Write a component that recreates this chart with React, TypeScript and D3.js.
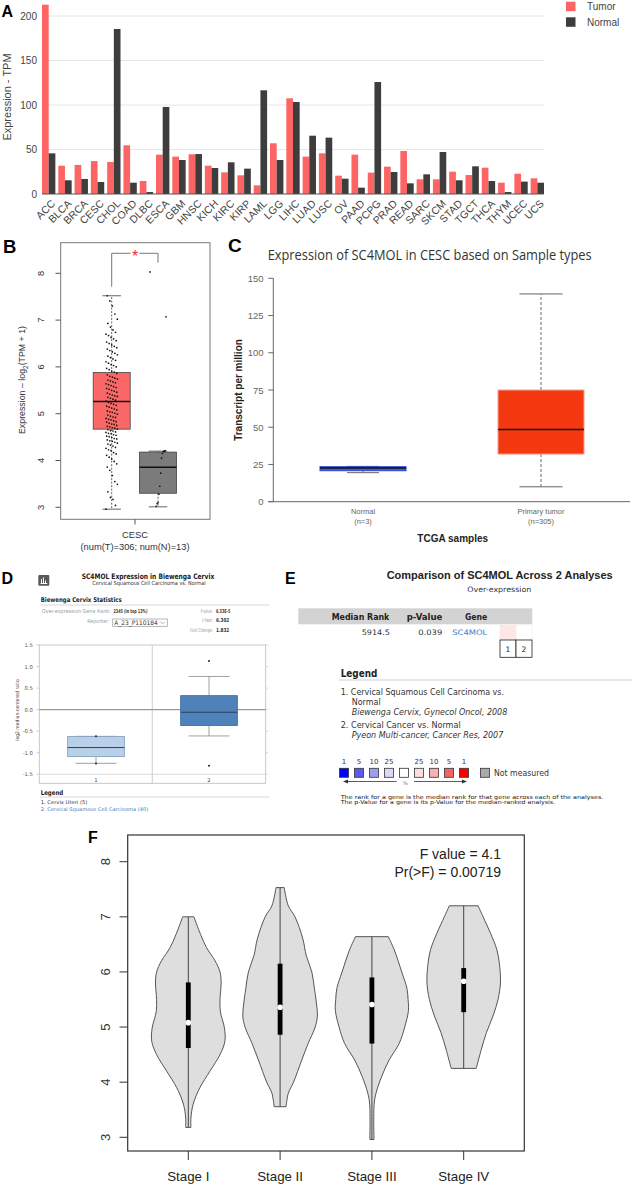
import React from 'react';
import * as d3 from 'd3';

// ---------- Panel A data ----------
const cancers = ['ACC','BLCA','BRCA','CESC','CHOL','COAD','DLBC','ESCA','GBM','HNSC','KICH','KIRC','KIRP','LAML','LGG','LIHC','LUAD','LUSC','OV','PAAD','PCPG','PRAD','READ','SARC','SKCM','STAD','TGCT','THCA','THYM','UCEC','UCS'];
const tumorTPM = [212.7,31.8,32.6,37,36,54.7,14.6,44.2,42,44.6,31.8,24.3,21,9.7,57,107.5,42,45.7,20.6,44.2,24,30.7,48.3,16.5,16.5,25.1,21.3,29.6,12.7,22.8,17.6];
const normalTPM = [45.7,15.4,16.9,13.5,185.4,12.7,2.2,97.8,38.2,44.9,29.2,35.6,28.5,116.5,38.2,103.4,65.5,63.3,17.2,7.1,125.8,24.7,12,22.1,47.2,15.4,31.1,14.6,2.2,13.9,12.7];
const tpmTicks = [0,50,100,150,200];
const seriesA = ['Tumor','Normal'];

// ---------- Panel B data ----------
const bGroups = ['Tumor','Normal'];
const bStats = [
  { min: 2.96, q1: 4.67, median: 5.26, q3: 5.88, max: 7.52 },
  { min: 3.01, q1: 3.30, median: 3.855, q3: 4.18, max: 4.2 },
];
const bTicks = [3,4,5,6,7,8];
const tumorLog2 = [
  2.96,3.04,3.17,3.21,3.33,3.49,3.55,3.68,3.79,3.86,3.93,3.98,4.03,4.07,4.11,4.14,4.17,4.21,4.23,4.26,4.28,4.31,4.33,4.35,4.37,4.39,4.41,4.42,4.44,4.46,4.47,4.49,4.51,4.52,4.54,4.55,4.57,4.58,4.6,4.61,4.63,4.64,4.66,
  4.67,4.69,4.7,4.72,4.73,4.75,4.77,4.78,4.8,4.82,4.83,4.85,4.87,4.88,4.9,4.92,4.93,4.95,4.97,4.99,5.01,5.03,5.04,5.06,5.08,5.1,5.12,5.14,5.16,5.18,5.2,5.22,5.24,
  5.27,5.29,5.31,5.33,5.35,5.37,5.38,5.4,5.42,5.44,5.46,5.48,5.5,5.52,5.54,5.56,5.58,5.6,5.62,5.64,5.66,5.68,5.7,5.72,5.74,5.76,5.78,5.8,5.83,5.86,
  5.89,5.91,5.94,5.97,6.0,6.03,6.05,6.08,6.11,6.14,6.17,6.2,6.23,6.26,6.29,6.32,6.35,6.38,6.41,6.44,6.47,6.5,6.53,6.56,6.6,6.63,6.67,6.7,6.74,6.79,6.85,6.93,7.02,7.13,7.3,7.41,7.52,
];
const normalLog2 = [8.03,7.07,4.21,4.2,4.19,4.15,4.05,3.73,3.45,3.28,3.1,3.08,3.02];

// ---------- Panel C data ----------
const cGroups = ['Normal','Primary tumor'];
const cCounts = ['(n=3)','(n=305)'];
const cStats = [
  { min: 19.5, q1: 20.8, median: 22.6, q3: 23.5, max: 23.7 },
  { min: 10, q1: 32, median: 48.5, q3: 75, max: 139.5 },
];
const cTicks = [0,25,50,75,100,125,150];

// ---------- Panel D data ----------
const dGroups = ['1','2'];
const dStats = [
  { min: -1.245, q1: -1.09, median: -0.88, q3: -0.62, max: -0.62, out: [-0.62,-1.25] },
  { min: -0.61, q1: -0.37, median: -0.06, q3: 0.325, max: 0.77, out: [1.13,-1.30] },
];
const dTicks = [-1.5,-1.0,-0.5,0.0,0.5,1.0,1.5];

// ---------- Panel E data ----------
const eScaleLabels = ['1','5','10','25','','25','10','5','1'];
const eScaleColors = ['#0000ff','#5a5aee','#9d9df2','#d8d8f7','#ffffff','#fcdede','#f7b0b0','#f06464','#ff0000'];

// ---------- Panel F data ----------
const stages = ['Stage I','Stage II','Stage III','Stage IV'];
const fTicks = [3,4,5,6,7,8];
const stageDensity = [
  [[3.18,0.07],[3.35,0.07],[3.6,0.13],[3.9,0.31],[4.2,0.58],[4.5,0.85],[4.74,0.98],[4.98,0.97],[5.28,0.86],[5.5,0.85],[5.8,0.88],[6.0,0.85],[6.2,0.72],[6.44,0.49],[6.68,0.33],[7.0,0.15]],
  [[3.555,0.16],[3.8,0.22],[4.0,0.36],[4.4,0.58],[4.7,0.75],[5.0,0.94],[5.2,1.0],[5.4,0.98],[5.7,0.92],[6.0,0.85],[6.3,0.7],[6.6,0.61],[7.0,0.4],[7.2,0.22],[7.53,0.11]],
  [[2.96,0.055],[3.6,0.06],[3.8,0.11],[4.1,0.26],[4.4,0.46],[4.7,0.73],[5.0,0.88],[5.3,0.98],[5.5,0.97],[5.7,0.94],[6.0,0.8],[6.4,0.6],[6.64,0.44]],
  [[4.25,0.335],[4.6,0.475],[4.9,0.61],[5.2,0.785],[5.5,0.92],[5.8,0.985],[6.1,0.965],[6.4,0.89],[6.7,0.72],[7.0,0.52],[7.2,0.385]],
];
const stageBox = [
  { q1: 4.62, median: 5.08, q3: 5.81 },
  { q1: 4.86, median: 5.36, q3: 6.15 },
  { q1: 4.7, median: 5.41, q3: 5.9 },
  { q1: 5.27, median: 5.83, q3: 6.07 },
];

const ARIAL = "'Liberation Sans', Arial, Helvetica, sans-serif";
const VERD = "'DejaVu Sans', Verdana, sans-serif";
const OPEN = "'Open Sans', 'DejaVu Sans', sans-serif";

export default function App() {
  React.useEffect(() => { document.body.style.margin = '0'; }, []);

  // Panel A scales
  const xA = d3.scaleBand<string>().domain(cancers).range([42, 544]).paddingInner(0.18).paddingOuter(0);
  const xAs = d3.scaleBand<string>().domain(seriesA).range([0, xA.bandwidth()]);
  const yA = d3.scaleLinear().domain([0, 200]).range([194, 16]);
  const colA: Record<string,string> = { Tumor: '#fd6464', Normal: '#3d3d3d' };

  // Panel B scales
  const xB = d3.scalePoint<string>().domain(bGroups).range([111.7, 158]);
  const yB = d3.scaleLinear().domain([3, 8]).range([507.3, 273.3]);
  const bFill = ['#f96767', '#7b7b7b'];

  // Panel C scales
  const xC = d3.scalePoint<string>().domain(cGroups).range([363, 541]);
  const yC = d3.scaleLinear().domain([0, 150]).range([501.7, 278.3]);

  // Panel D scales
  const xD = d3.scalePoint<string>().domain(dGroups).range([96, 209]);
  const yD = d3.scaleLinear().domain([-1.5, 1.5]).range([774.3, 645]);

  // Panel E scale
  const xE = d3.scaleLinear().domain([0, 8]).range([344, 464]);

  // Panel F scales
  const xF = d3.scalePoint<string>().domain(stages).range([188.3, 463.7]);
  const yF = d3.scaleLinear().domain([3, 8]).range([1137.3, 861.7]);
  const wF = d3.scaleLinear().domain([0, 1]).range([0, 37.3]);

  const jit = (i: number, k: number, amp: number) => (((i * k) % 19) - 9) / 9 * amp;

  return (
    <svg width={632} height={1185} style={{ position: 'absolute', left: 0, top: 0, display: 'block', background: '#fff' }}>
      <rect x={0} y={0} width={632} height={1185} fill="#fff" />

      {/* ================= Panel A ================= */}
      <text x={1.5} y={16.7} fontFamily={ARIAL} fontWeight="bold" fontSize={16} fill="#000">A</text>
      {tpmTicks.filter(t => t > 0).map(t => (
        <line key={'ga' + t} x1={42} x2={544} y1={yA(t)} y2={yA(t)} stroke="#e6e6e6" strokeWidth={1} />
      ))}
      {tpmTicks.map(t => (
        <text key={'ta' + t} x={37} y={yA(t) + 3.5} textAnchor="end" fontFamily={ARIAL} fontSize={10} fill="#444">{t}</text>
      ))}
      <text transform={`translate(11,${(yA(0) + yA(200)) / 2 - 8}) rotate(-90)`} textAnchor="middle" fontFamily={ARIAL} fontSize={11} fill="#444">Expression - TPM</text>
      {cancers.map((c, i) => (
        <g key={'ba' + c}>
          <rect x={(xA(c) as number) + (xAs('Tumor') as number)} y={yA(tumorTPM[i])} width={xAs.bandwidth()} height={yA(0) - yA(tumorTPM[i])} fill={colA.Tumor} />
          <rect x={(xA(c) as number) + (xAs('Normal') as number)} y={yA(normalTPM[i])} width={xAs.bandwidth()} height={yA(0) - yA(normalTPM[i])} fill={colA.Normal} />
          <text transform={`translate(${(xA(c) as number) + xA.bandwidth() / 2 + 2},199) rotate(-45)`} textAnchor="end" dy="0.7em" fontFamily={ARIAL} fontSize={10.5} fill="#444">{c}</text>
        </g>
      ))}
      <line x1={42} x2={544} y1={yA(0)} y2={yA(0)} stroke="#555" strokeWidth={1} />
      {seriesA.map((s, i) => (
        <g key={'la' + s}>
          <rect x={566} y={1.7 + i * 15.6} width={9.5} height={9.5} fill={colA[s]} />
          <text x={587} y={10.2 + i * 15.6} fontFamily={ARIAL} fontSize={10} fill="#444">{s}</text>
        </g>
      ))}

      {/* ================= Panel B ================= */}
      <text x={3} y={253.3} fontFamily={ARIAL} fontWeight="bold" fontSize={18.5} fill="#000">B</text>
      <rect x={60.7} y={242.7} width={149.3} height={276.6} fill="none" stroke="#777" strokeWidth={1} />
      {bTicks.map(t => (
        <g key={'tb' + t}>
          <line x1={55.5} x2={60.7} y1={yB(t)} y2={yB(t)} stroke="#555" />
          <text transform={`translate(43.5,${yB(t)}) rotate(-90)`} textAnchor="middle" fontFamily={ARIAL} fontSize={9.3} fill="#333">{t}</text>
        </g>
      ))}
      <text transform="translate(25,380) rotate(-90)" textAnchor="middle" fontFamily={ARIAL} fontSize={8.8} fill="#333">
        Expression – log<tspan fontSize={6.5} dy={2.5}>2</tspan><tspan dy={-2.5}>(TPM + 1)</tspan>
      </text>
      {bStats.map((s, i) => {
        const cx = xB(bGroups[i]) as number;
        const bw = 37;
        const cw = 18.5;
        return (
          <g key={'bb' + i}>
            <line x1={cx} x2={cx} y1={yB(s.q3)} y2={yB(s.max)} stroke="#666" strokeDasharray="2,1.5" />
            <line x1={cx} x2={cx} y1={yB(s.q1)} y2={yB(s.min)} stroke="#666" strokeDasharray="2,1.5" />
            <line x1={cx - cw / 2} x2={cx + cw / 2} y1={yB(s.max)} y2={yB(s.max)} stroke="#666" />
            <line x1={cx - cw / 2} x2={cx + cw / 2} y1={yB(s.min)} y2={yB(s.min)} stroke="#666" />
            <rect x={cx - bw / 2} y={yB(s.q3)} width={bw} height={yB(s.q1) - yB(s.q3)} fill={bFill[i]} stroke="#444" strokeWidth={0.8} />
            <line x1={cx - bw / 2} x2={cx + bw / 2} y1={yB(s.median)} y2={yB(s.median)} stroke="#111" strokeWidth={1.6} />
          </g>
        );
      })}
      {tumorLog2.map((v, i) => (
        <circle key={'pt' + i} cx={(xB('Tumor') as number) + jit(i, 53, 5.7)} cy={yB(v)} r={0.85} fill="#111" />
      ))}
      {normalLog2.map((v, i) => (
        <circle key={'pn' + i} cx={(xB('Normal') as number) + jit(i, 37, 8)} cy={yB(v)} r={0.85} fill="#111" />
      ))}
      <path d={`M${xB('Tumor')},286.7 V253.3 H130.5`} fill="none" stroke="#777" />
      <path d={`M139.5,253.3 H${xB('Normal')} V262.7`} fill="none" stroke="#777" />
      <text x={135} y={262} textAnchor="middle" fontFamily={ARIAL} fontSize={16} fill="#f03030">*</text>
      <line x1={135} x2={135} y1={519.3} y2={524.5} stroke="#555" />
      <text x={135} y={538.3} textAnchor="middle" fontFamily={ARIAL} fontSize={9.3} fill="#333">CESC</text>
      <text x={135} y={550.3} textAnchor="middle" fontFamily={ARIAL} fontSize={9.3} fill="#333">(num(T)=306; num(N)=13)</text>

      {/* ================= Panel C ================= */}
      <text x={228} y={251.7} fontFamily={ARIAL} fontWeight="bold" fontSize={19} fill="#000">C</text>
      <text x={267.7} y={259.7} fontFamily={OPEN} fontSize={14} fill="#333" textLength={324} lengthAdjust="spacingAndGlyphs">Expression of SC4MOL in CESC based on Sample types</text>
      <line x1={273.3} x2={273.3} y1={yC(150)} y2={yC(0)} stroke="#666" />
      <line x1={268.3} x2={630} y1={yC(0)} y2={yC(0)} stroke="#666" />
      {cTicks.map(t => (
        <g key={'tc' + t}>
          <line x1={268.3} x2={273.3} y1={yC(t)} y2={yC(t)} stroke="#666" />
          <text x={263.5} y={yC(t) + 3.5} textAnchor="end" fontFamily={ARIAL} fontSize={9.5} fill="#666">{t}</text>
        </g>
      ))}
      {cStats.map((s, i) => {
        const cx = xC(cGroups[i]) as number;
        const bw = 86;
        const cw = i === 0 ? 32 : 43;
        const fill = i === 0 ? '#4060e6' : '#f4380f';
        const stroke = i === 0 ? '#2a47c8' : '#f8a090';
        return (
          <g key={'cb' + i}>
            <line x1={cx} x2={cx} y1={yC(s.q3)} y2={yC(s.max)} stroke="#666" strokeDasharray="3,2" />
            <line x1={cx} x2={cx} y1={yC(s.q1)} y2={yC(s.min)} stroke="#666" strokeDasharray="3,2" />
            <line x1={cx - cw / 2} x2={cx + cw / 2} y1={yC(s.max)} y2={yC(s.max)} stroke="#666" />
            <line x1={cx - cw / 2} x2={cx + cw / 2} y1={yC(s.min)} y2={yC(s.min)} stroke="#666" />
            <rect x={cx - bw / 2} y={yC(s.q3)} width={bw} height={yC(s.q1) - yC(s.q3)} fill={fill} stroke={stroke} strokeWidth={1} />
            <line x1={cx - bw / 2} x2={cx + bw / 2} y1={yC(s.median)} y2={yC(s.median)} stroke="#111" strokeWidth={1.6} />
            <text x={cx} y={514.3} textAnchor="middle" fontFamily={ARIAL} fontSize={7.5} fill="#666">{cGroups[i]}</text>
            <text x={cx} y={524.3} textAnchor="middle" fontFamily={ARIAL} fontSize={7.5} fill="#666">{cCounts[i]}</text>
          </g>
        );
      })}
      <text x={452.7} y={541.5} textAnchor="middle" fontFamily={ARIAL} fontWeight="bold" fontSize={10} fill="#222">TCGA samples</text>
      <text transform="translate(241.5,390) rotate(-90)" textAnchor="middle" fontFamily={ARIAL} fontWeight="bold" fontSize={10} fill="#222">Transcript per million</text>

      {/* ================= Panel D ================= */}
      <text x={1.5} y={584} fontFamily={ARIAL} fontWeight="bold" fontSize={16} fill="#000">D</text>
      <rect x={38.3} y={575} width={11} height={10.7} rx={1} fill="#5a5a5a" />
      <path d="M40.5,583.5 H47.3 M41.5,583.5 V579 M43.5,583.5 V577.5 M45.5,583.5 V580.5" stroke="#fff" strokeWidth={1} fill="none" />
      <text x={81.7} y={578.7} fontFamily={VERD} fontWeight="bold" fontSize={7.5} fill="#222" textLength={132.6} lengthAdjust="spacingAndGlyphs">SC4MOL Expression in Biewenga Cervix</text>
      <text x={92.3} y={585.4} fontFamily={VERD} fontSize={5.6} fill="#333" textLength={113.4} lengthAdjust="spacingAndGlyphs">Cervical Squamous Cell Carcinoma vs. Normal</text>
      <text x={40.7} y={601.7} fontFamily={VERD} fontWeight="bold" fontSize={6.5} fill="#222" textLength={81} lengthAdjust="spacingAndGlyphs">Biewenga Cervix Statistics</text>
      <line x1={40} x2={269.3} y1={605} y2={605} stroke="#d8d8d8" />
      <text x={110.7} y={613} textAnchor="end" fontFamily={VERD} fontSize={5.3} fill="#9a9a9a" textLength={69} lengthAdjust="spacingAndGlyphs">Over-expression Gene Rank:</text>
      <text x={113.5} y={613} fontFamily={VERD} fontWeight="bold" fontSize={5.3} fill="#333" textLength={34} lengthAdjust="spacingAndGlyphs">2345 (in top 13%)</text>
      <text x={212.7} y={613} textAnchor="end" fontFamily={VERD} fontSize={5.3} fill="#9a9a9a" textLength={12} lengthAdjust="spacingAndGlyphs">P-value:</text>
      <text x={216} y={613} fontFamily={VERD} fontWeight="bold" fontSize={5.3} fill="#333" textLength={14.3} lengthAdjust="spacingAndGlyphs">6.33E-5</text>
      <text x={109.3} y={622.5} textAnchor="end" fontFamily={VERD} fontSize={5.3} fill="#9a9a9a" textLength={22} lengthAdjust="spacingAndGlyphs">Reporter:</text>
      <rect x={112.7} y={619} width={54.6} height={7.3} fill="#fff" stroke="#999" strokeWidth={0.7} />
      <text x={114.3} y={625.3} fontFamily={VERD} fontSize={6.3} fill="#333" textLength={43.4} lengthAdjust="spacingAndGlyphs">A_23_P110184</text>
      <polyline points="160.6,621.6 162.7,623.8 164.8,621.6" fill="none" stroke="#888" strokeWidth={0.6} />
      <text x={212.7} y={622.3} textAnchor="end" fontFamily={VERD} fontSize={5.3} fill="#9a9a9a" textLength={10.4} lengthAdjust="spacingAndGlyphs">t-Test:</text>
      <text x={216} y={622.3} fontFamily={VERD} fontWeight="bold" fontSize={5.3} fill="#333" textLength={13.3} lengthAdjust="spacingAndGlyphs">6.302</text>
      <text x={212.7} y={632.3} textAnchor="end" fontFamily={VERD} fontSize={5.3} fill="#9a9a9a" textLength={22.7} lengthAdjust="spacingAndGlyphs">Fold Change:</text>
      <text x={216} y={632.3} fontFamily={VERD} fontWeight="bold" fontSize={5.3} fill="#333" textLength={13.3} lengthAdjust="spacingAndGlyphs">1.832</text>

      <rect x={39.3} y={645} width={226.4} height={138.3} fill="#fff" stroke="#bbb" strokeWidth={0.8} />
      <line x1={152.3} x2={152.3} y1={645} y2={783.3} stroke="#c4c4c4" strokeWidth={0.8} />
      <line x1={39.3} x2={265.7} y1={yD(-1.5)} y2={yD(-1.5)} stroke="#d0d0d0" strokeWidth={0.8} />
      <line x1={39.3} x2={265.7} y1={yD(0)} y2={yD(0)} stroke="#999" strokeWidth={1.1} />
      {dTicks.map(t => (
        <g key={'td' + t}>
          <line x1={36.5} x2={39.3} y1={yD(t)} y2={yD(t)} stroke="#bbb" strokeWidth={0.7} />
          <line x1={265.7} x2={268.3} y1={yD(t)} y2={yD(t)} stroke="#ccc" strokeWidth={0.7} />
          <text x={33} y={yD(t) + 2} textAnchor="end" fontFamily={VERD} fontSize={5.3} fill="#555">{t.toFixed(1)}</text>
        </g>
      ))}
      <text transform="translate(18.6,710) rotate(-90)" textAnchor="middle" fontFamily={VERD} fontSize={5} fill="#444" textLength={61.7} lengthAdjust="spacingAndGlyphs">log2 median-centered ratio</text>
      {dStats.map((s, i) => {
        const cx = xD(dGroups[i]) as number;
        const bw = 56.7;
        const cw = 41;
        const fill = i === 0 ? '#b9d0e8' : '#4f82ba';
        const stroke = i === 0 ? '#7c9cc0' : '#3b6899';
        return (
          <g key={'db' + i}>
            <line x1={cx} x2={cx} y1={yD(s.q3)} y2={yD(s.max)} stroke="#888" strokeWidth={0.8} />
            <line x1={cx} x2={cx} y1={yD(s.q1)} y2={yD(s.min)} stroke="#888" strokeWidth={0.8} />
            <line x1={cx - cw / 2} x2={cx + cw / 2} y1={yD(s.max)} y2={yD(s.max)} stroke="#888" strokeWidth={0.8} />
            <line x1={cx - cw / 2} x2={cx + cw / 2} y1={yD(s.min)} y2={yD(s.min)} stroke="#888" strokeWidth={0.8} />
            <rect x={cx - bw / 2} y={yD(s.q3)} width={bw} height={yD(s.q1) - yD(s.q3)} fill={fill} stroke={stroke} strokeWidth={0.8} />
            <line x1={cx - bw / 2} x2={cx + bw / 2} y1={yD(s.median)} y2={yD(s.median)} stroke="#2d3e55" strokeWidth={1} />
            {s.out.map((o, j) => (
              <circle key={j} cx={cx} cy={yD(o)} r={1} fill="#222" />
            ))}
            <text x={cx} y={782} textAnchor="middle" fontFamily={VERD} fontSize={5.3} fill="#444">{dGroups[i]}</text>
          </g>
        );
      })}
      <text x={40.7} y={794.6} fontFamily={VERD} fontWeight="bold" fontSize={6.5} fill="#222" textLength={22.6} lengthAdjust="spacingAndGlyphs">Legend</text>
      <line x1={40} x2={269.3} y1={797} y2={797} stroke="#d8d8d8" />
      <text x={40.7} y={803.5} fontFamily={VERD} fontSize={5} fill="#333" textLength={46.6} lengthAdjust="spacingAndGlyphs">1. Cervix Uteri (5)</text>
      <text x={40.7} y={811.1} fontFamily={VERD} fontSize={5} fill="#3b7dc4" textLength={107.6} lengthAdjust="spacingAndGlyphs">2. Cervical Squamous Cell Carcinoma (40)</text>

      {/* ================= Panel E ================= */}
      <text x={285} y={584} fontFamily={ARIAL} fontWeight="bold" fontSize={16} fill="#000">E</text>
      <text x={386.7} y={579.3} fontFamily={ARIAL} fontWeight="bold" fontSize={10.2} fill="#222" textLength={226} lengthAdjust="spacingAndGlyphs">Comparison of SC4MOL Across 2 Analyses</text>
      <text x={467.3} y={592} fontFamily={VERD} fontSize={7.5} fill="#333" textLength={64} lengthAdjust="spacingAndGlyphs">Over-expression</text>
      <rect x={298.3} y={608.3} width={234} height={16} fill="#d3d3d3" />
      <text x={331.7} y={619.6} fontFamily={VERD} fontWeight="bold" fontSize={8} fill="#222" textLength={57.7} lengthAdjust="spacingAndGlyphs">Median Rank</text>
      <text x={406.7} y={619.6} fontFamily={VERD} fontWeight="bold" fontSize={8} fill="#222" textLength={35.7} lengthAdjust="spacingAndGlyphs">p-Value</text>
      <text x={465} y={619.6} fontFamily={VERD} fontWeight="bold" fontSize={8} fill="#222" textLength={22.3} lengthAdjust="spacingAndGlyphs">Gene</text>
      <text x={361.7} y={635.4} fontFamily={VERD} fontSize={7.5} fill="#333" textLength={28.3} lengthAdjust="spacingAndGlyphs">5914.5</text>
      <text x={418.3} y={635.4} fontFamily={VERD} fontSize={7.5} fill="#333" textLength={24} lengthAdjust="spacingAndGlyphs">0.039</text>
      <text x={452.3} y={635.4} fontFamily={VERD} fontSize={7.5} fill="#3a7dc9" textLength={35} lengthAdjust="spacingAndGlyphs">SC4MOL</text>
      <rect x={500} y={625} width={16} height={15} fill="#fde6e6" stroke="#eee" strokeWidth={0.6} />
      <rect x={516} y={625} width={16} height={15} fill="#fff" stroke="#eee" strokeWidth={0.6} />
      {['1', '2'].map((n, i) => (
        <g key={'eb' + n}>
          <rect x={500 + i * 16} y={640} width={16} height={17.3} fill="#fff" stroke="#222" strokeWidth={0.8} />
          <text x={508 + i * 16} y={651.5} textAnchor="middle" fontFamily={VERD} fontSize={7.5} fill="#222">{n}</text>
        </g>
      ))}
      <text x={340.7} y={676.8} fontFamily={VERD} fontWeight="bold" fontSize={10} fill="#222" textLength={36.6} lengthAdjust="spacingAndGlyphs">Legend</text>
      <line x1={339} x2={632} y1={680} y2={680} stroke="#d0d0d0" />
      <text x={340.7} y={694.5} fontFamily={VERD} fontSize={8} fill="#333" textLength={163.3} lengthAdjust="spacingAndGlyphs">1. Cervical Squamous Cell Carcinoma vs.</text>
      <text x={351.7} y={704.5} fontFamily={VERD} fontSize={8} fill="#333" textLength={29} lengthAdjust="spacingAndGlyphs">Normal</text>
      <text x={351.7} y={714.8} fontFamily={VERD} fontStyle="italic" fontSize={8} fill="#333" textLength={155.6} lengthAdjust="spacingAndGlyphs">Biewenga Cervix, Gynecol Oncol, 2008</text>
      <text x={340.7} y={727.8} fontFamily={VERD} fontSize={8} fill="#333" textLength={120} lengthAdjust="spacingAndGlyphs">2. Cervical Cancer vs. Normal</text>
      <text x={351.7} y={738.1} fontFamily={VERD} fontStyle="italic" fontSize={8} fill="#333" textLength={151.6} lengthAdjust="spacingAndGlyphs">Pyeon Multi-cancer, Cancer Res, 2007</text>
      {eScaleColors.map((c, i) => (
        <g key={'es' + i}>
          {eScaleLabels[i] && (
            <text x={xE(i)} y={764} textAnchor="middle" fontFamily={VERD} fontSize={7} fill="#333">{eScaleLabels[i]}</text>
          )}
          <rect x={xE(i) - 4.5} y={768.3} width={9} height={9} fill={c} stroke="#333" strokeWidth={0.8} />
        </g>
      ))}
      <rect x={480.5} y={768.3} width={9} height={9} fill="#aaa" stroke="#333" strokeWidth={0.8} />
      <text x={494} y={775.8} fontFamily={VERD} fontSize={8} fill="#333" textLength={55} lengthAdjust="spacingAndGlyphs">Not measured</text>
      <line x1={396.7} x2={346} y1={781.5} y2={781.5} stroke="#333" strokeWidth={0.8} />
      <polygon points="343,781.5 348,779.6 348,783.4" fill="#333" />
      <line x1={414} x2={464} y1={781.5} y2={781.5} stroke="#333" strokeWidth={0.8} />
      <polygon points="467,781.5 462,779.6 462,783.4" fill="#333" />
      <text x={405.3} y={784.5} textAnchor="middle" fontFamily={VERD} fontSize={5} fill="#777">%</text>
      <text x={340.7} y={799.2} fontFamily={VERD} fontSize={5.5} fill="#222" textLength={262.6} lengthAdjust="spacingAndGlyphs">The rank for a gene is the median rank for that gene across each of the analyses.</text>
      <text x={340.7} y={804.4} fontFamily={VERD} fontSize={5.5} fill="#222" textLength={214.3} lengthAdjust="spacingAndGlyphs">The p-Value for a gene is its p-Value for the median-ranked analysis.</text>

      {/* ================= Panel F ================= */}
      <text x={88} y={843.3} fontFamily={ARIAL} fontWeight="bold" fontSize={16} fill="#000">F</text>
      <rect x={127.7} y={835} width={396.6} height={316} fill="#fff" stroke="#333" strokeWidth={1.2} />
      {fTicks.map(t => (
        <g key={'tf' + t}>
          <line x1={119.5} x2={127.7} y1={yF(t)} y2={yF(t)} stroke="#333" />
          <text transform={`translate(110,${yF(t)}) rotate(-90)`} textAnchor="middle" fontFamily={ARIAL} fontSize={13} fill="#333">{t}</text>
        </g>
      ))}
      {stages.map((st, i) => {
        const cx = xF(st) as number;
        const pts = stageDensity[i] as [number, number][];
        const area = d3.area<[number, number]>()
          .y(d => yF(d[0]))
          .x0(d => cx - wF(d[1]))
          .x1(d => cx + wF(d[1]))
          .curve(d3.curveCatmullRom.alpha(0.5));
        const lo = pts[0][0];
        const hi = pts[pts.length - 1][0];
        const b = stageBox[i];
        return (
          <g key={'vf' + st}>
            <path d={area(pts) || ''} fill="#dedede" stroke="#444" strokeWidth={0.9} />
            <line x1={cx} x2={cx} y1={yF(lo)} y2={yF(hi)} stroke="#333" strokeWidth={0.9} />
            <rect x={cx - 2.4} y={yF(b.q3)} width={4.8} height={yF(b.q1) - yF(b.q3)} fill="#000" />
            <circle cx={cx} cy={yF(b.median)} r={2.8} fill="#fff" />
            <line x1={cx} x2={cx} y1={1151} y2={1160} stroke="#333" />
            <text x={cx} y={1181} textAnchor="middle" fontFamily={ARIAL} fontSize={13.3} fill="#222">{st}</text>
          </g>
        );
      })}
      <text x={501} y={859.3} textAnchor="end" fontFamily={ARIAL} fontSize={14} fill="#222">F value = 4.1</text>
      <text x={501} y={876.7} textAnchor="end" fontFamily={ARIAL} fontSize={14} fill="#222">Pr(&gt;F) = 0.00719</text>
    </svg>
  );
}
